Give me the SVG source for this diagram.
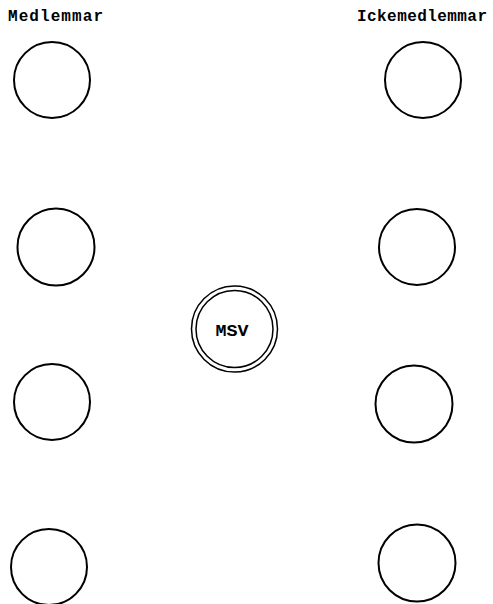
<svg xmlns="http://www.w3.org/2000/svg" width="493" height="604" viewBox="0 0 493 604">
<style>
.n{fill:none;stroke:#000;stroke-width:2}
.m{fill:none;stroke:#000;stroke-width:1.5}
.t{font-family:"Liberation Mono",monospace;font-weight:bold;font-size:16px;fill:#000}
</style>
<rect width="493" height="604" fill="#fff"/>
<text class="t" x="8" y="21" textLength="95" lengthAdjust="spacing">Medlemmar</text>
<text class="t" x="357" y="21" textLength="130" lengthAdjust="spacing">Ickemedlemmar</text>
<g id="m1"><circle class="n" cx="52" cy="80" r="38"/></g>
<g id="m2"><circle class="n" cx="56" cy="247" r="38.5"/></g>
<g id="m3"><circle class="n" cx="52" cy="402" r="38"/></g>
<g id="m4"><circle class="n" cx="49" cy="567" r="38"/></g>
<g id="i1"><circle class="n" cx="423" cy="80" r="38"/></g>
<g id="i2"><circle class="n" cx="417" cy="247" r="38"/></g>
<g id="i3"><circle class="n" cx="414" cy="404" r="38.5"/></g>
<g id="i4"><circle class="n" cx="417" cy="563" r="38.5"/></g>
<g id="msv">
<circle class="m" cx="234.5" cy="329" r="43"/>
<circle class="m" cx="234.5" cy="329" r="38.5"/>
<text class="t" x="232" y="336" text-anchor="middle" textLength="33" lengthAdjust="spacingAndGlyphs" style="font-size:16px">MSV</text>
</g>
<g id="connectors"></g>
</svg>
